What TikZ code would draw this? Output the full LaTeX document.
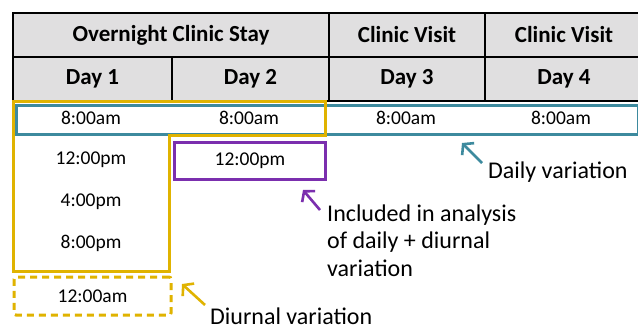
\documentclass[tikz,border=0pt]{standalone}
\usepackage{fontspec}
\setmainfont{Carlito}
\usetikzlibrary{arrows.meta}
\definecolor{hdrgray}{HTML}{E0DFE0}
\definecolor{tealc}{HTML}{3D8A9E}
\definecolor{goldc}{HTML}{E0B300}
\definecolor{purpc}{HTML}{7B2FAE}
\begin{document}
\begin{tikzpicture}[x=1pt,y=-1pt,
  hdr/.style={draw=black,line width=2pt,fill=hdrgray,anchor=north west,inner sep=0,
    font=\fontsize{23}{27}\selectfont\bfseries},
  tm/.style={inner sep=0,font=\fontsize{19.5}{23}\selectfont},
  lbl/.style={inner sep=0,font=\fontsize{24}{27.5}\selectfont,align=left},
  arr/.style={line width=2.6pt,-{Straight Barb[length=7pt,width=17pt]}}]
\clip (0,0) rectangle (638,327);
\fill[white] (0,0) rectangle (638,327);
% header row 1
\node[hdr,minimum width=316pt,minimum height=44pt] (ov) at (12,12) {Overnight Clinic Stay};
\node[hdr,minimum width=156pt,minimum height=44pt] (cv3) at (328,12) {Clinic Visit};
\node[hdr,minimum width=158pt,minimum height=44pt] (cv4) at (484,12) {Clinic Visit};
% header row 2
\node[hdr,minimum width=159pt,minimum height=44pt] (d1) at (12,56) {Day 1};
\node[hdr,minimum width=157pt,minimum height=44pt] (d2) at (171,56) {Day 2};
\node[hdr,minimum width=156pt,minimum height=44pt] (d3) at (328,56) {Day 3};
\node[hdr,minimum width=158pt,minimum height=44pt] (d4) at (484,56) {Day 4};
% teal daily row
\node[draw=tealc,line width=3pt,fill=white,anchor=north west,inner sep=0,
  minimum width=622pt,minimum height=29pt] (daily) at (15,103.5) {};
\node[tm] (a1) at (91,117.5) {8:00am};
\node[tm] (a2) at (249,117.5) {8:00am};
\node[tm] (a3) at (406,117.5) {8:00am};
\node[tm] (a4) at (561,117.5) {8:00am};
% yellow diurnal outline
\draw[goldc,line width=3pt] (13.5,101) -- (325,101) -- (325,135) -- (169.5,135)
  -- (169.5,271.5) -- (13.5,271.5) -- cycle;
% purple box
\node[draw=purpc,line width=3pt,anchor=north west,inner sep=0,
  minimum width=151pt,minimum height=37pt] (pbox) at (173,141) {};
\node[tm] (p1) at (pbox.center) {12:00pm};
% day 1 times
\node[tm] (b1) at (91,159.5) {12:00pm};
\node[tm] (b2) at (91,202) {4:00pm};
\node[tm] (b3) at (91,243.5) {8:00pm};
% dashed yellow box
\node[draw=goldc,line width=3pt,dashed,dash pattern=on 7pt off 5pt,rounded corners=2pt,
  anchor=north west,inner sep=0,minimum width=157pt,minimum height=38pt] (dbox) at (12.5,275.5) {};
\node[tm] (b4) at (dbox.center) {12:00am};
% labels
\node[lbl,anchor=base west] (ldaily) at (488,178) {Daily variation};
\node[lbl,anchor=north west] (lincl) at (327,204.5) {Included in analysis\\of daily + diurnal\\variation};
\node[lbl,anchor=base west] (ldiur) at (210,324.5) {Diurnal variation};
% arrows
\coordinate (t1) at (482,163); \coordinate (h1) at (462,143);
\coordinate (t2) at (320,210); \coordinate (h2) at (303,190);
\coordinate (t3) at (205,305); \coordinate (h3) at (182,284);
\draw[arr,tealc] (t1) -- (h1);
\draw[arr,purpc] (t2) -- (h2);
\draw[arr,goldc] (t3) -- (h3);
\end{tikzpicture}
\end{document}
